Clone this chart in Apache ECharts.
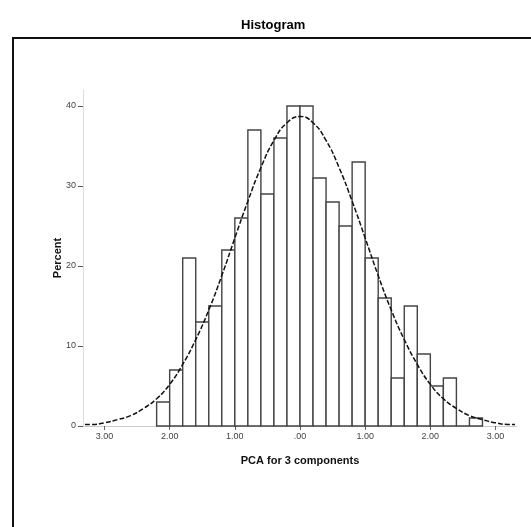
<!DOCTYPE html>
<html>
<head>
<meta charset="utf-8">
<script src="https://cdn.jsdelivr.net/npm/echarts@6/dist/echarts.min.js"></script>
<style>
  html, body { margin: 0; padding: 0; background: #fff; }
  #chart { width: 531px; height: 527px; }
</style>
</head>
<body>
<div id="chart"></div>
<script>
// bin edges (width .2) and bar heights
var binStart = [-2.2, -2.0, -1.8, -1.6, -1.4, -1.2, -1.0, -0.8, -0.6, -0.4, -0.2, 0.0, 0.2,
                0.4, 0.6, 0.8, 1.0, 1.2, 1.4, 1.6, 1.8, 2.0, 2.2, 2.4, 2.6];
var binEnd = [-2.0, -1.8, -1.6, -1.4, -1.2, -1.0, -0.8, -0.6, -0.4, -0.2, 0.0, 0.2, 0.4,
              0.6, 0.8, 1.0, 1.2, 1.4, 1.6, 1.8, 2.0, 2.2, 2.4, 2.6, 2.8];
var percent = [3, 7, 21, 13, 15, 22, 26, 37, 29, 36, 40, 40, 31,
               28, 25, 33, 21, 16, 6, 15, 9, 5, 6, 0, 1];

// normal curve, points
var curveX = [-3.3, -3.2, -3.0, -2.8, -2.6, -2.4, -2.2, -2.0, -1.8, -1.6, -1.4, -1.2, -1.0, -0.8, -0.6, -0.4, -0.2, 0,
              0.2, 0.4, 0.6, 0.8, 1.0, 1.2, 1.4, 1.6, 1.8, 2.0, 2.2, 2.4, 2.6, 2.8, 3.0, 3.2, 3.3];
var curveY = [0.2, 0.2, 0.4, 0.8, 1.3, 2.2, 3.4, 5.2, 7.7, 10.8, 14.5, 18.8, 23.5, 28.1, 32.3, 35.7, 37.9, 38.7,
              37.9, 35.7, 32.3, 28.1, 23.5, 18.8, 14.5, 10.8, 7.7, 5.2, 3.4, 2.2, 1.3, 0.8, 0.4, 0.2, 0.2];

var xTicks = [-3, -2, -1, 0, 1, 2, 3];
var xTickLabels = ['3.00', '2.00', '1.00', '.00', '1.00', '2.00', '3.00'];
var yTicks = [0, 10, 20, 30, 40];

var bars = [];
for (var i = 0; i < percent.length; i++) {
  bars.push([binStart[i], binEnd[i], percent[i]]);
}
var curve = [];
for (var j = 0; j < curveX.length; j++) {
  curve.push([curveX[j], curveY[j]]);
}

var myChart = echarts.init(document.getElementById('chart'));

myChart.setOption({
  backgroundColor: '#fff',
  animation: false,
  title: {
    text: 'Histogram',
    left: 236,
    top: 14,
    textStyle: { fontFamily: 'Liberation Sans', fontSize: 13, fontWeight: 'bold', color: '#000' }
  },
  graphic: [{
    type: 'rect',
    silent: true,
    shape: { x: 13, y: 38, width: 560, height: 560 },
    style: { fill: null, stroke: '#111', lineWidth: 2 }
  }],
  grid: { left: 83, right: 14, top: 90, bottom: 101 },
  xAxis: {
    type: 'value',
    min: -3.33,
    max: 3.33,
    name: 'PCA for 3 components',
    nameLocation: 'middle',
    nameGap: 29,
    nameMoveOverlap: false,
    nameTextStyle: { fontFamily: 'Liberation Sans', fontSize: 11, fontWeight: 'bold', color: '#111' },
    splitLine: { show: false },
    axisLine: { onZero: false, lineStyle: { color: '#ccc', width: 1 } },
    axisTick: { customValues: xTicks, length: 4, lineStyle: { color: '#666' } },
    axisLabel: {
      customValues: xTicks,
      margin: 6,
      fontFamily: 'Liberation Sans',
      fontSize: 9,
      color: '#444',
      formatter: function (v) {
        var k = xTicks.indexOf(Math.round(v));
        return k >= 0 ? xTickLabels[k] : '';
      }
    }
  },
  yAxis: {
    type: 'value',
    min: 0,
    max: 42,
    name: 'Percent',
    nameLocation: 'middle',
    nameGap: 20,
    nameMoveOverlap: false,
    nameTextStyle: { fontFamily: 'Liberation Sans', fontSize: 11, fontWeight: 'bold', color: '#111' },
    splitLine: { show: false },
    axisLine: { show: true, onZero: false, lineStyle: { color: '#ddd', width: 1 } },
    axisTick: { customValues: yTicks, length: 5, lineStyle: { color: '#555' } },
    axisLabel: { customValues: yTicks, margin: 7, fontFamily: 'Liberation Sans', fontSize: 9, color: '#444' }
  },
  series: [{
    name: 'bars',
    type: 'custom',
    encode: { x: [0, 1], y: 2 },
    data: bars,
    z: 2,
    renderItem: function (params, api) {
      var p0 = api.coord([api.value(0), api.value(2)]);
      var p1 = api.coord([api.value(1), 0]);
      return {
        type: 'rect',
        shape: { x: p0[0], y: p0[1], width: p1[0] - p0[0], height: p1[1] - p0[1] },
        style: { fill: '#fff', stroke: '#444', lineWidth: 1.4 }
      };
    }
  }, {
    name: 'normal',
    type: 'line',
    data: curve,
    smooth: true,
    symbol: 'none',
    z: 5,
    lineStyle: { color: '#111', width: 1.5, type: [5, 2] }
  }]
});
</script>
</body>
</html>
